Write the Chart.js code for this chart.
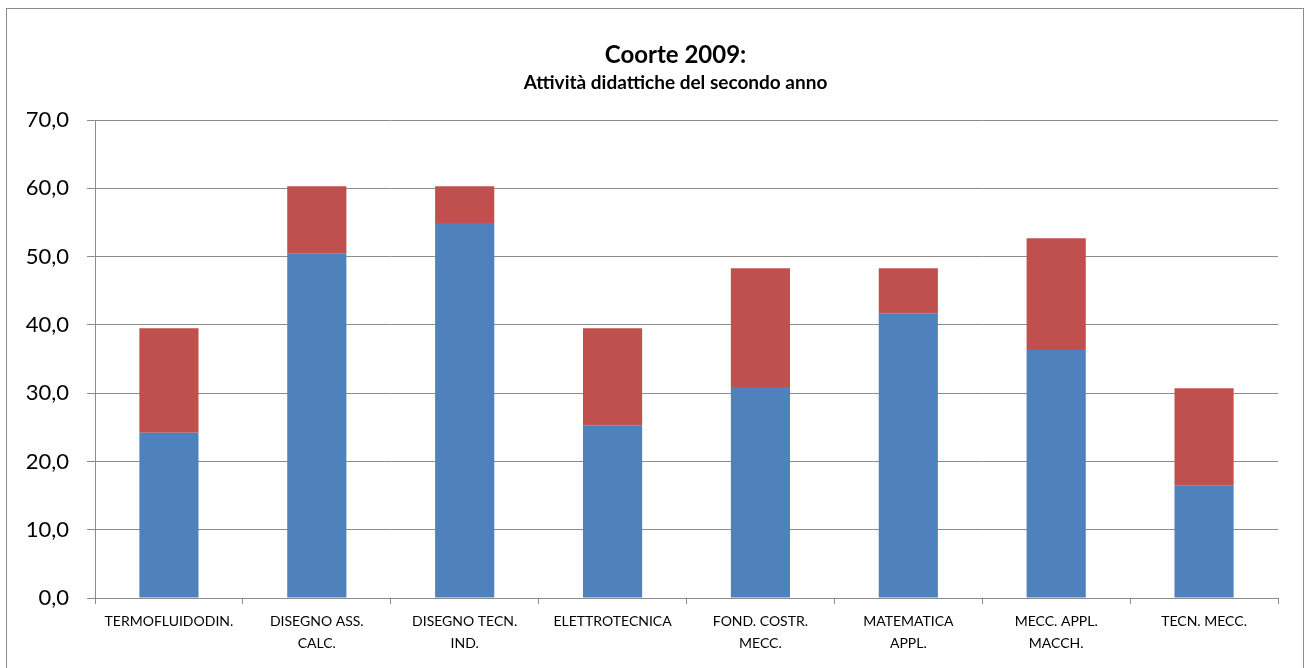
<!DOCTYPE html>
<html>
<head>
<meta charset="utf-8">
<script src="https://cdn.jsdelivr.net/npm/chart.js@4.4.1/dist/chart.umd.min.js"></script>
<style>
  html, body { margin: 0; padding: 0; background: #fff; }
  #wrap { position: relative; width: 1305px; height: 668px; }
  #frame { position: absolute; left: 6px; top: 8px; width: 1298px; height: 662px; border: 1px solid #8c8c8c; box-sizing: border-box; pointer-events: none; }
</style>
</head>
<body>
<div id="wrap">
  <canvas id="grafico" width="1305" height="668"></canvas>
  <div id="frame"></div>
</div>
<script>
const titolo = 'Coorte 2009:';
const sottotitolo = 'Attività didattiche del secondo anno';
const categorie = [
  'TERMOFLUIDODIN.',
  ['DISEGNO ASS.', 'CALC.'],
  ['DISEGNO TECN.', 'IND.'],
  'ELETTROTECNICA',
  ['FOND. COSTR.', 'MECC.'],
  ['MATEMATICA', 'APPL.'],
  ['MECC. APPL.', 'MACCH.'],
  'TECN. MECC.'
];
const serieBlu = [24.2, 50.5, 54.9, 25.3, 30.9, 41.7, 36.3, 16.5];
const serieRossa = [15.3, 9.8, 5.4, 14.2, 17.4, 6.6, 16.4, 14.2];
const tickY = [0, 10, 20, 30, 40, 50, 60, 70];

const font = 'Lato, "Open Sans", sans-serif';
const grigio = '#8c8c8c';

function formatNum(v) {
  return v.toFixed(1).replace('.', ',');
}

// titolo disegnato a mano: in Excel non è centrato né sul canvas né sull'area del grafico
const titoloPlugin = {
  id: 'titoloExcel',
  afterDraw(chart) {
    const ctx = chart.ctx;
    const cx = (chart.chartArea.left + chart.chartArea.right) / 2 - 11;
    ctx.save();
    ctx.fillStyle = '#000';
    ctx.textAlign = 'center';
    ctx.textBaseline = 'middle';
    ctx.font = 'bold 24px ' + font;
    ctx.fillText(titolo, cx, 55);
    ctx.font = 'bold 19px ' + font;
    ctx.fillText(sottotitolo, cx, 83);
    ctx.restore();
  }
};

new Chart(document.getElementById('grafico'), {
  type: 'bar',
  data: {
    labels: categorie,
    datasets: [
      { label: 'Serie 1', data: serieBlu, backgroundColor: '#4F81BD', barPercentage: 0.4, categoryPercentage: 1 },
      { label: 'Serie 2', data: serieRossa, backgroundColor: '#C0504D', barPercentage: 0.4, categoryPercentage: 1 }
    ]
  },
  options: {
    responsive: false,
    animation: false,
    layout: { padding: { left: 0, right: 27, top: 120, bottom: 0 } },
    plugins: {
      legend: { display: false },
      tooltip: { enabled: false },
      title: { display: false }
    },
    scales: {
      x: {
        stacked: true,
        afterFit: s => { s.height = 70; },
        grid: { display: true, offset: true, drawOnChartArea: false, tickLength: 6, color: grigio, lineWidth: 1 },
        border: { display: true, color: grigio, width: 1 },
        ticks: { color: '#000', font: { family: font, size: 14, lineHeight: 1.55 }, maxRotation: 0, autoSkip: false, padding: 7 }
      },
      y: {
        stacked: true,
        min: 0,
        max: 70,
        afterFit: s => { s.width = 95; },
        afterBuildTicks: s => { s.ticks = tickY.map(v => ({ value: v })); },
        grid: { color: grigio, lineWidth: 1, tickLength: 8 },
        border: { display: true, color: grigio, width: 1 },
        ticks: { color: '#000', font: { family: font, size: 22 }, padding: 18, callback: v => formatNum(v) }
      }
    }
  },
  plugins: [titoloPlugin]
});
</script>
</body>
</html>
